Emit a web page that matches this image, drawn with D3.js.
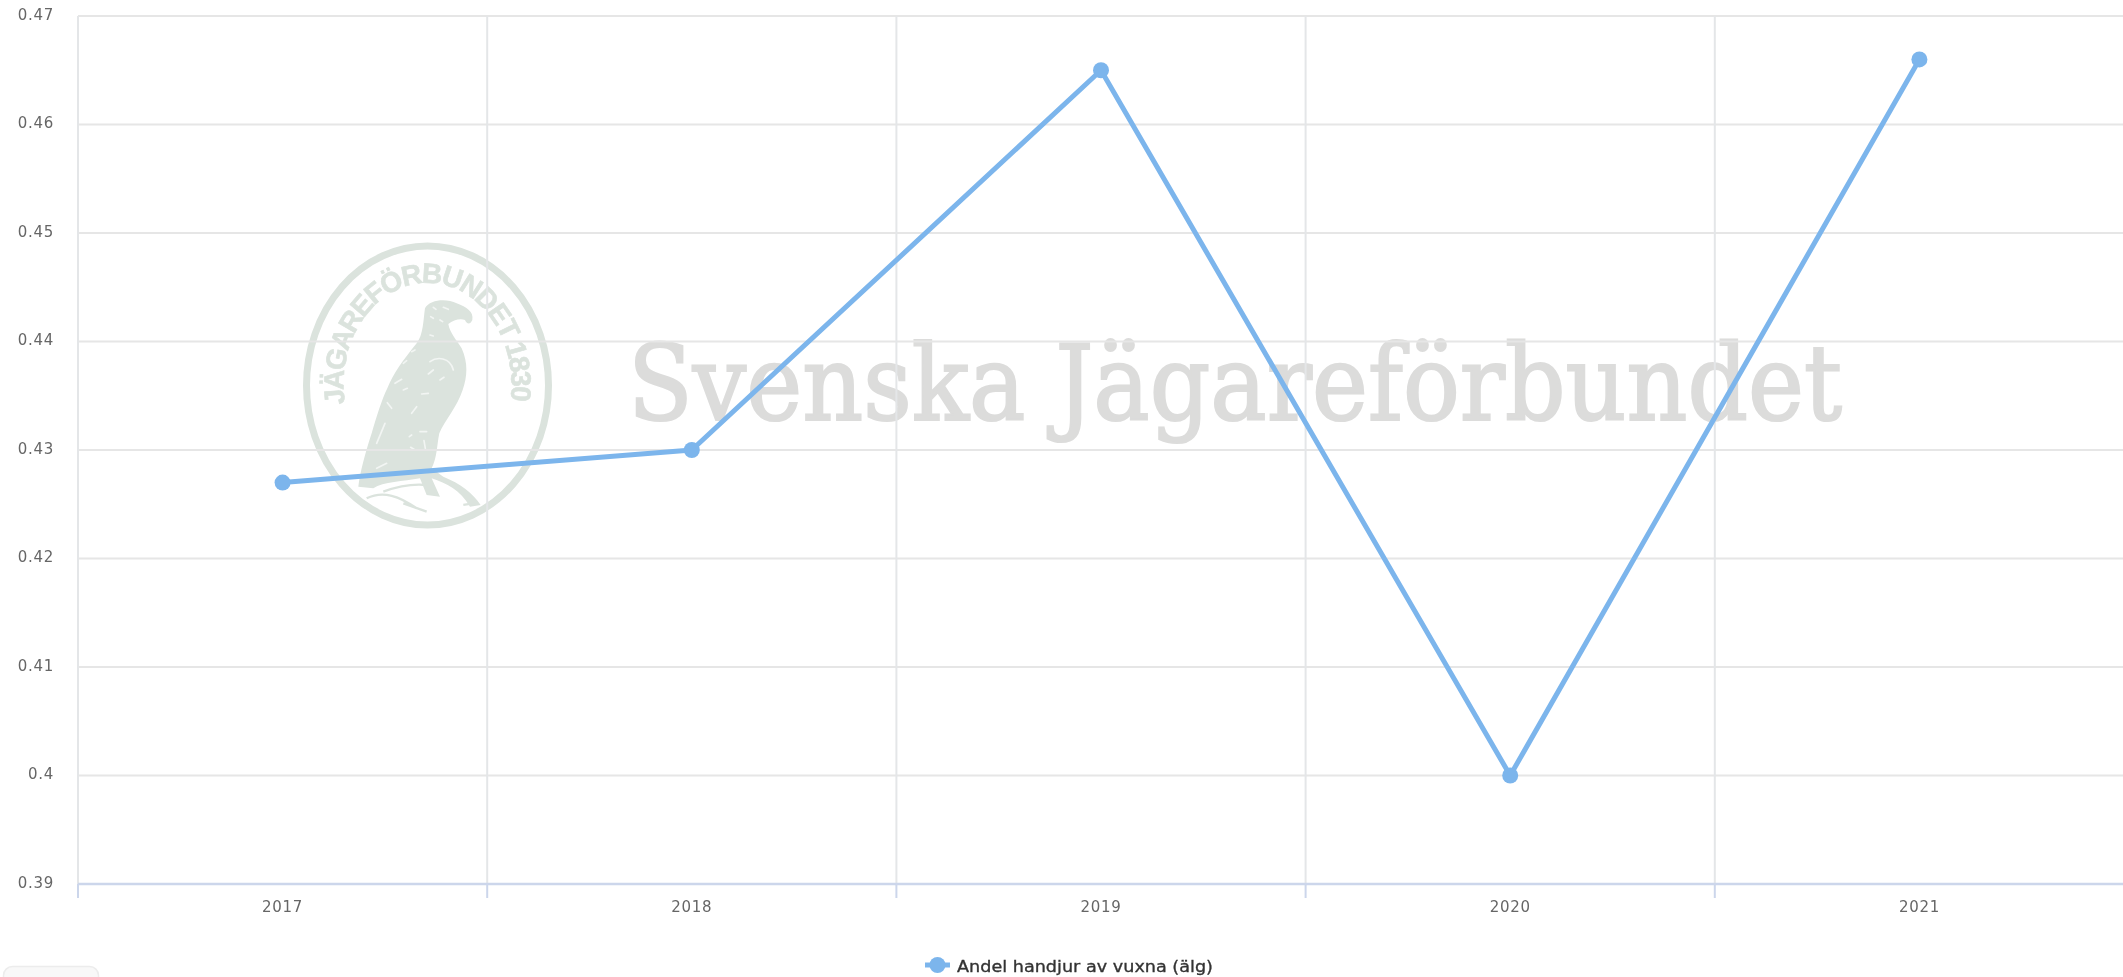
<!DOCTYPE html>
<html><head><meta charset="utf-8">
<script src="https://cdnjs.cloudflare.com/ajax/libs/d3/7.8.5/d3.min.js"></script>
<style>
html,body{margin:0;padding:0;background:#fff;overflow:hidden}
svg{display:block;filter:blur(.5px)}
.tick text{font-family:"DejaVu Sans",sans-serif;font-size:15px;letter-spacing:.7px;fill:#666}
</style></head><body><svg id="c" width="2123" height="977"></svg>
<script>
const years = ["2017","2018","2019","2020","2021"];
const shareValues = [0.427,0.43,0.465,0.4,0.466];
const yTicks = [0.39,0.4,0.41,0.42,0.43,0.44,0.45,0.46,0.47];
const seriesName = "Andel handjur av vuxna (älg)";
const watermarkText = "Svenska Jägareförbundet";
const sealText = "JÄGAREFÖRBUNDET 1830";

const W=2123,H=977,plotLeft=78,plotRight=2124,plotTop=16,plotBottom=884;
const svg=d3.select("#c");
const x=d3.scaleBand().domain(years).range([plotLeft,plotRight]);
const y=d3.scaleLinear().domain([0.39,0.47]).range([plotBottom,plotTop]);
const blue="#7cb5ec", seal="#dbe3dd";

// bottom-left stub box
svg.append("rect").attr("x",3.5).attr("y",966.5).attr("width",95).attr("height",30).attr("rx",9)
  .attr("fill","#f8f8f8").attr("stroke","#ececec").attr("stroke-width",1.5);

// watermark
const wm=svg.append("g");
wm.append("text").text(watermarkText).attr("x",628).attr("y",420)
  .attr("font-family","'DejaVu Serif',serif").attr("font-size",105)
  .attr("textLength",1214).attr("lengthAdjust","spacingAndGlyphs").attr("fill","#dcdcdb")
  .attr("stroke","#dcdcdb").attr("stroke-width",2.2);
const cx=427.5,cy=385.5;
wm.append("ellipse").attr("cx",cx).attr("cy",cy).attr("rx",121).attr("ry",139.5)
  .attr("fill","none").attr("stroke",seal).attr("stroke-width",7);
wm.append("path").attr("id","sealArc").attr("fill","none")
  .attr("d",`M${cx-82.6},${cy+18} A84,102 0 1 1 ${cx+82.6},${cy+18}`);
const sealLabel=wm.append("text").attr("font-family","'Liberation Sans',sans-serif").attr("font-weight","bold")
  .attr("font-size",28).attr("fill",seal).attr("stroke",seal).attr("stroke-width",.6)
  .append("textPath").attr("href","#sealArc").attr("lengthAdjust","spacing").text(sealText);
sealLabel.attr("textLength",d3.select("#sealArc").node().getTotalLength()-3);
const eagle=wm.append("g").attr("transform","translate(270,220) scale(0.3333)");
eagle.append("path").attr("fill",seal).attr("d",
 "M465,265 C480,238 530,235 560,250 C590,262 612,275 607,300 C600,316 590,312 585,300 C570,295 550,300 535,312 C540,340 560,360 575,385 C595,430 592,470 578,510 C562,560 525,600 508,640 C500,680 502,710 485,745 L520,770 C570,790 610,820 632,855 L600,860 C570,810 530,790 485,775 L510,830 L470,825 L450,775 C400,785 340,785 310,805 L265,800 C270,760 285,700 305,640 C320,590 335,540 352,505 C370,460 400,420 440,370 C460,345 460,300 465,265 Z");
eagle.append("path").attr("fill","none").attr("stroke",seal).attr("stroke-width",7)
  .attr("d","M290,835 C340,810 390,830 440,865 M340,815 C380,800 420,790 470,795 M580,855 L610,850 M400,850 L470,875");
eagle.append("path").attr("fill","none").attr("stroke","#f2f5f3").attr("stroke-width",5).attr("stroke-linecap","round")
  .attr("d","M480,425 C500,410 540,410 550,450 M490,262 L498,268 M520,262 L535,268 M482,290 L490,295 M510,300 L518,305 M480,345 L490,348 M425,395 L435,390 M400,430 L410,422 M375,490 L395,478 M400,510 L412,505 M352,548 L365,565 M425,580 L440,560 M418,650 L425,645 M450,635 L470,635 M422,682 L432,688 M462,662 L466,685 M345,610 L320,670 M475,462 L490,450 M510,480 L522,472 M455,522 L475,520 M320,745 L350,730");

// grid
const grid=svg.append("g").attr("stroke","#e6e6e6").attr("stroke-width",2);
grid.selectAll(".h").data(yTicks.filter(d=>d>0.39)).join("line")
  .attr("x1",plotLeft).attr("x2",W).attr("y1",d=>y(d)).attr("y2",d=>y(d));
const edges=years.map(d=>x(d));
grid.selectAll(".v").data(edges).join("line")
  .attr("x1",d=>d).attr("x2",d=>d).attr("y1",plotTop).attr("y2",plotBottom)
  .attr("stroke","#e4e6e8");

// axes
const ay=svg.append("g").attr("transform",`translate(${plotLeft},0)`)
  .call(d3.axisLeft(y).tickValues(yTicks).tickSize(0).tickPadding(24).tickFormat(d=>String(+d.toFixed(2))));
ay.select(".domain").remove();
ay.selectAll("text").attr("dy","0.22em");
const ax=svg.append("g").attr("transform",`translate(0,${plotBottom})`)
  .call(d3.axisBottom(x).tickSize(0).tickPadding(17));
ax.select(".domain").remove();
ax.selectAll("text").attr("dy","0.71em");
ax.append("line").attr("x1",plotLeft).attr("x2",W).attr("stroke","#ccd6eb").attr("stroke-width",2.6);
ax.selectAll(".tk").data(edges).join("line").attr("x1",d=>d).attr("x2",d=>d).attr("y1",0).attr("y2",14)
  .attr("stroke","#ccd6eb").attr("stroke-width",2);

// series
const pts=years.map((d,i)=>[x(d)+x.bandwidth()/2,y(shareValues[i])]);
svg.append("path").attr("d",d3.line()(pts)).attr("fill","none").attr("stroke",blue)
  .attr("stroke-width",5).attr("stroke-linejoin","round");
svg.selectAll(".pt").data(pts).join("circle").attr("cx",d=>d[0]).attr("cy",d=>d[1]).attr("r",8).attr("fill",blue);

// legend
const lg=svg.append("g");
lg.append("line").attr("x1",925).attr("x2",950).attr("y1",965).attr("y2",965).attr("stroke",blue).attr("stroke-width",5);
lg.append("circle").attr("cx",937.5).attr("cy",965).attr("r",8).attr("fill",blue);
lg.append("text").text(seriesName).attr("x",957).attr("y",972)
  .attr("font-family","'DejaVu Sans',sans-serif").attr("font-size",16.5).attr("fill","#333").attr("stroke","#333").attr("stroke-width",.35)
  .attr("textLength",256).attr("lengthAdjust","spacingAndGlyphs");
</script></body></html>
